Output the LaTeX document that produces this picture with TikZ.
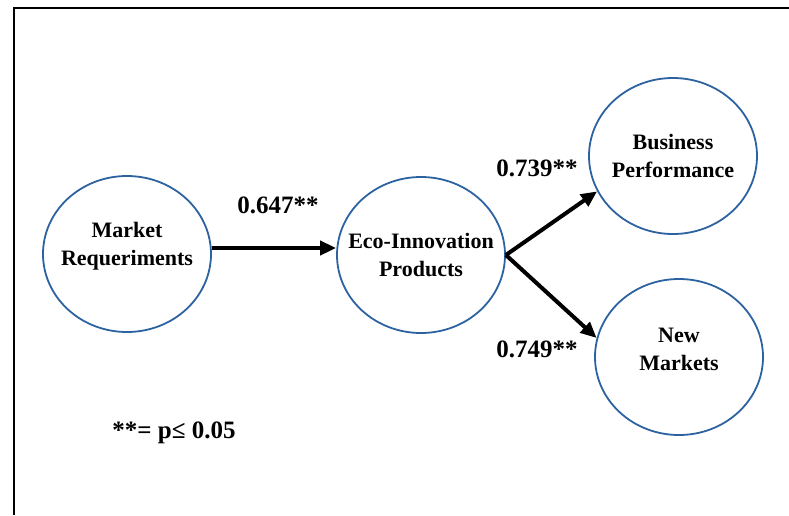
\documentclass[tikz,border=0pt]{standalone}
\usepackage{fontspec}
\setmainfont{Liberation Serif}
\usepackage{tikz}
\definecolor{ring}{RGB}{44,98,160}
\usetikzlibrary{shapes.geometric, arrows.meta}

\begin{document}
\begin{tikzpicture}[x=1pt, y=-1pt, >={Triangle[length=16pt, width=14pt]},
    construct/.style={ellipse, draw=ring, line width=1.8pt, minimum width=168pt,
        minimum height=156pt, inner xsep=-20pt, inner ysep=0pt, align=center,
        font=\fontsize{22}{28}\selectfont\bfseries},
    coef/.style={font=\fontsize{25}{30}\selectfont\bfseries}]
    \useasboundingbox (0,0) rectangle (789,515);
    % Frame
    \draw[line width=2.2pt] (789,8) -- (14,8) -- (14,515);
    % Constructs
    \node[construct, text depth=21pt] (mr) at (127,254) {Market\\Requeriments};
    \node[construct] (eip) at (421,255) {Eco-Innovation\\Products};
    \node[construct] (bp) at (673,156) {Business\\Performance};
    \node[construct, text depth=16pt] (nm) at (679,357) {New\\Markets};
    % Paths
    \draw[->, line width=4pt] ([yshift=6pt]mr.east) -- ([yshift=6pt]mr.east -| eip.west);
    \draw[->, line width=4pt] (eip.east) -- (bp.205);
    \draw[->, line width=4pt] (eip.east) -- (nm.167);
    % Coefficients
    \node[coef] (c1) at (278,205) {0.647**};
    \node[coef] (c2) at (537,168) {0.739**};
    \node[coef] (c3) at (537,349) {0.749**};
    \node[coef] (note) at (174,433) {**= p≤ 0.05};
\end{tikzpicture}
\end{document}
